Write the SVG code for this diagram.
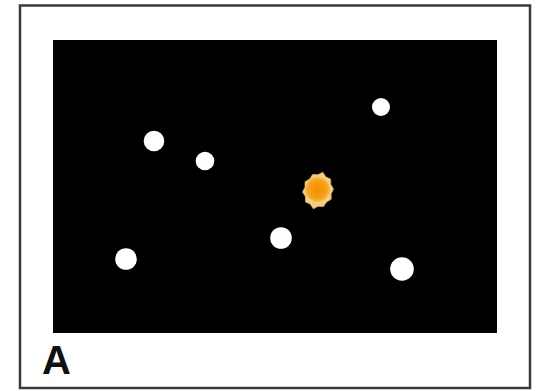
<svg xmlns="http://www.w3.org/2000/svg" width="539" height="391" viewBox="0 0 539 391">
  <defs>
    <filter id="soft" x="-50%" y="-50%" width="200%" height="200%">
      <feGaussianBlur stdDeviation="0.6"/>
    </filter>
    <radialGradient id="sunCore" cx="0.5" cy="0.5" r="0.5">
      <stop offset="0" stop-color="#f59000"/>
      <stop offset="0.75" stop-color="#f7a11a"/>
      <stop offset="1" stop-color="#f6bf5a"/>
    </radialGradient>
  </defs>
  <style>
    .dot { fill: #ffffff; filter: url(#soft); }
    .label { font-family: "Liberation Sans", Arial, sans-serif; font-size: 40px; font-weight: bold; fill: #111111; }
  </style>
  <rect x="0" y="0" width="539" height="391" fill="#ffffff"/>
  <g id="frame">
    <rect x="20" y="5.5" width="510" height="382.5" fill="#ffffff" stroke="#3a3a3a" stroke-width="2.5"/>
  </g>
  <g id="field">
    <rect x="53" y="40" width="444" height="293" fill="#000000"/>
  </g>
  <g id="dot1"><circle class="dot" cx="154" cy="141" r="10.3"/></g>
  <g id="dot2"><circle class="dot" cx="205" cy="161" r="9.3"/></g>
  <g id="dot3"><circle class="dot" cx="381" cy="107" r="9"/></g>
  <g id="dot4"><circle class="dot" cx="281" cy="238" r="10.8"/></g>
  <g id="dot5"><circle class="dot" cx="126" cy="259" r="10.8"/></g>
  <g id="dot6"><circle class="dot" cx="402" cy="269" r="11.8"/></g>
  <g id="sun" filter="url(#soft)">
    <polygon fill="#f3cf83" stroke="#d9a94a" stroke-width="0.8" points="333.5,189 331.1,193.9 331.2,199.3 326.5,202 323.5,206.6 318.1,206.3 313.3,208.8 310.4,204.2 305.5,201.9 305.4,196.5 302.5,192 305,187.2 305,181.7 309.7,179 312.6,174.5 318,174.7 322.8,172.2 325.7,176.8 330.6,179.1 330.8,184.5"/>
    <circle cx="317.5" cy="189.5" r="12.5" fill="url(#sunCore)"/>
  </g>
  <g id="label-a">
    <text class="label" x="42" y="374">A</text>
  </g>
</svg>
